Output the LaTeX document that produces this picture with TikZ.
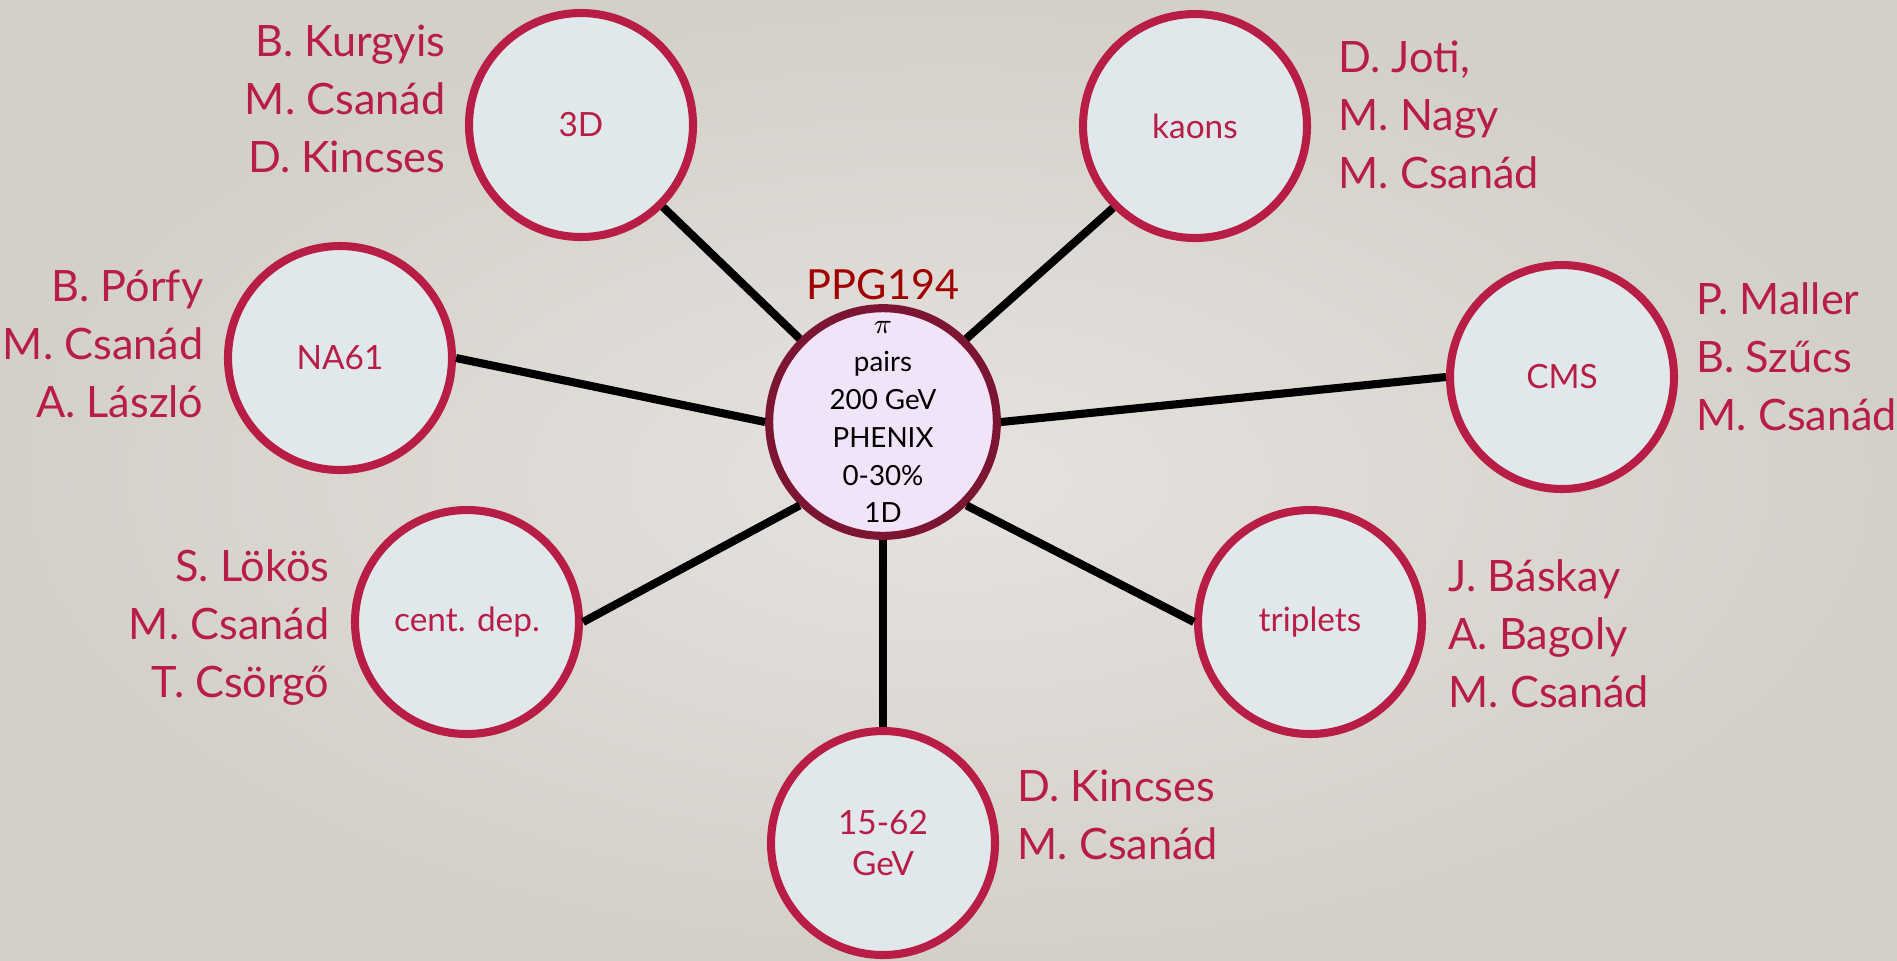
\documentclass[tikz,border=0pt]{standalone}
\usepackage{fontspec}
\setmainfont{Lato}
\usetikzlibrary{positioning}

\definecolor{crimson}{HTML}{B81D45}
\definecolor{bubblefill}{HTML}{E1E8EB}
\definecolor{hubfill}{HTML}{F1E3F8}
\definecolor{hubline}{HTML}{7B1531}
\definecolor{titlered}{HTML}{A00000}
\definecolor{bgin}{HTML}{E6E3DF}
\definecolor{bgout}{HTML}{D3CFC9}

\begin{document}
\begin{tikzpicture}[
    topic/.style={circle, draw=crimson, fill=bubblefill, line width=2.3pt, minimum size=2.24cm, inner sep=0pt, text=crimson, font=\fontsize{9.5}{11.5}\selectfont, align=center},
    hub/.style={circle, draw=hubline, fill=hubfill, line width=2.3pt, minimum size=2.24cm, inner sep=0pt, align=center, font=\fontsize{7.9}{10.8}\selectfont},
    people/.style={text=crimson, font=\fontsize{12.3}{16.4}\selectfont, inner sep=0pt},
    link/.style={line width=2.3pt, black}
]

% Background
\useasboundingbox (0,0) rectangle (18.97,-9.60);
\shade[inner color=bgin, outer color=bgout] (0,0) rectangle (18.97,-9.60);

% Central analysis
\node[hub] (hub) at (8.83,-4.22) {$\pi$\\pairs\\200 GeV\\PHENIX\\0-30\%\\1D};
\node[text=titlered, font=\fontsize{11.8}{14}\selectfont, inner sep=1pt, above=0pt of hub] (title) {PPG194};

% Topics around it
\node[topic] (threed) at (5.81,-1.25) {3D};
\node[topic] (kaons) at (11.95,-1.26) {kaons};
\node[topic] (na) at (3.40,-3.58) {NA61};
\node[topic] (cms) at (15.62,-3.77) {CMS};
\node[topic] (cent) at (4.67,-6.22) {cent. dep.};
\node[topic] (trip) at (13.10,-6.22) {triplets};
\node[topic] (gev) at (8.83,-8.43) {15-62\\GeV};

% People (anchored at the last baseline)
\node[people, anchor=base east, align=right] (threedppl) at (4.46,-1.72) {B. Kurgyis\\M. Csanád\\D. Kincses};
\node[people, anchor=base west, align=left] (kaonsppl) at (13.38,-1.88) {D. Joti,\\M. Nagy\\M. Csanád};
\node[people, anchor=base east, align=right] (nappl) at (2.04,-4.17) {B. Pórfy\\M. Csanád\\A. László};
\node[people, anchor=base west, align=left] (cmsppl) at (16.96,-4.30) {P. Maller\\B. Szűcs\\M. Csanád};
\node[people, anchor=base east, align=right] (centppl) at (3.30,-6.97) {S. Lökös\\M. Csanád\\T. Csörgő};
\node[people, anchor=base west, align=left] (tripppl) at (14.48,-7.07) {J. Báskay\\A. Bagoly\\M. Csanád};
\node[people, anchor=base west, align=left] (gevppl) at (10.17,-8.59) {D. Kincses\\M. Csanád};

% Links
\foreach \a/\b in {threed.south east/hub.north west, kaons.south west/hub.north east,
                   na.east/hub.west, cms.west/hub.east,
                   cent.east/hub.south west, trip.west/hub.south east, hub.south/gev.north}
    \draw[link] (\a) -- (\b);

\end{tikzpicture}
\end{document}
